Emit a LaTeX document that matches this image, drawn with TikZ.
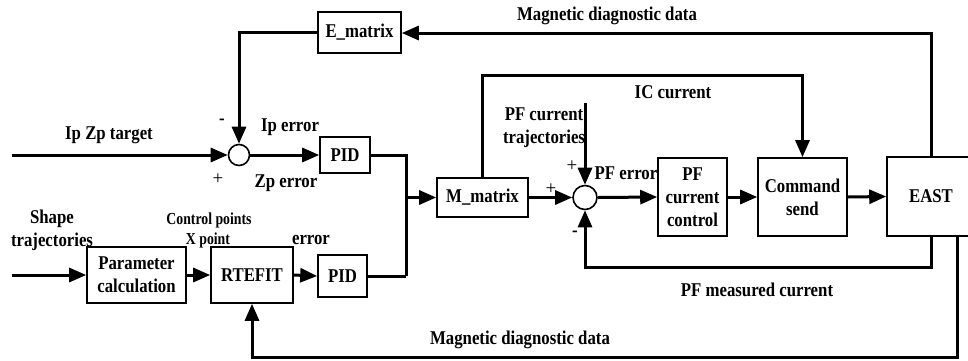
\documentclass[tikz,border=0pt]{standalone}
\usepackage{fontspec}
\setmainfont{Liberation Serif}
\newfontfamily\narfont[FakeStretch=0.86]{Liberation Serif}
\newfontfamily\narsmall[FakeStretch=0.82]{Liberation Serif}
\usetikzlibrary{arrows.meta,calc}
\begin{document}
\begin{tikzpicture}[x=1pt,y=-1pt,
  txt/.style={font=\narfont\bfseries\fontsize{19.5}{23}\selectfont, align=center, inner sep=0pt},
  small/.style={font=\narsmall\bfseries\fontsize{16.8}{18}\selectfont, align=center, inner sep=0pt},
  sgn/.style={font=\fontsize{19}{20}\selectfont, inner sep=0pt},
  blk/.style={draw, line width=1.6pt, txt, minimum width=#1},
  sumc/.style={draw, circle, line width=1.6pt, minimum size=#1, inner sep=0pt},
  conn/.style={line width=3pt, -{Triangle[length=17pt,width=14pt]}},
  wire/.style={line width=3pt}]
\useasboundingbox (0,0) rectangle (968,360);

% blocks
\node[blk=83, minimum height=41] (emat) at (359.5,32.5) {E\_matrix};
\node[sumc=21] (s1) at (239,155) {};
\node[blk=50, minimum height=36] (pid1) at (345,155) {PID};
\node[blk=91, minimum height=39] (mmat) at (482.5,197.5) {M\_matrix};
\node[sumc=24] (s2) at (585,197.5) {};
\node[blk=69, minimum height=78] (pfcc) at (692.5,197) {PF\\current\\control};
\node[blk=89, minimum height=78] (cmd) at (802.5,197) {Command\\send};
\node[blk=88, minimum height=79] (east) at (931,196.5) {EAST};
\node[blk=99, minimum height=56] (param) at (136.5,275) {Parameter\\calculation};
\node[blk=82, minimum height=56] (rtefit) at (252,275) {RTEFIT};
\node[blk=49, minimum height=42] (pid2) at (342.5,276) {PID};

% free ends / junctions
\coordinate (in1) at (12,155);
\coordinate (in2) at (12,275);
\coordinate (jtop) at (406,155);
\coordinate (jbot) at (406,276);
\coordinate (jm) at (406,197.5);
\coordinate (ic) at (482.5,75);
\coordinate (pft) at (585,103);
\coordinate (fb1) at (931,267);
\coordinate (eb) at (957,236);
\coordinate (fb2) at (957,357);
\coordinate (top) at (931,33);

% connectors
\draw[conn] (east.north) -- (top) -- (emat.east |- top);
\draw[conn] (emat.west) -| (s1.north);
\draw[conn] (in1) -- (s1.west);
\draw[conn] (s1.east) -- (pid1.west);
\draw[wire] (pid1.east) -- (jtop) -- (jbot);
\draw[wire] (pid2.east) -- (jbot);
\draw[conn] (jm) -- (mmat.west);
\draw[conn] (mmat.north) -- (ic) -| (cmd.north);
\draw[conn] (mmat.east) -- (s2.west);
\draw[conn] (pft) -- (s2.north);
\draw[conn] (s2.east) -- (pfcc.west);
\draw[conn] (pfcc.east) -- (cmd.west);
\draw[conn] (cmd.east) -- (east.west);
\draw[conn] (east.south) -- (fb1) -| (s2.south);
\draw[conn] (eb) -- (fb2) -| (rtefit.south);
\draw[conn] (in2) -- (param.west);
\draw[conn] (param.east) -- (rtefit.west);
\draw[conn] (rtefit.east) -- (pid2.west);

% labels
\node[txt] (l1) at (607,16) {Magnetic diagnostic data};
\node[txt] (l2) at (673,92) {IC current};
\node[txt] (l3) at (544,128) {PF current\\trajectories};
\node[txt] (l4) at (109,135) {Ip Zp target};
\node[txt] (l5) at (222,122) {-};
\node[sgn] (l6) at (218,179) {+};
\node[txt] (l7) at (290,127) {Ip error};
\node[txt] (l8) at (286,183) {Zp error};
\node[sgn] (l9) at (572,166) {+};
\node[txt] (l10) at (626,173) {PF error};
\node[sgn] (l11) at (551,189) {+};
\node[txt] (l12) at (575,234) {-};
\node[txt] (l13) at (757,290) {PF measured current};
\node[txt] (l14) at (520,340) {Magnetic diagnostic data};
\node[txt] (l15) at (52,230) {Shape\\trajectories};
\node[small] (l16) at (209,220) {Control points};
\node[small] (l17) at (208,240) {X point};
\node[txt] (l18) at (311,240) {error};
\end{tikzpicture}
\end{document}
